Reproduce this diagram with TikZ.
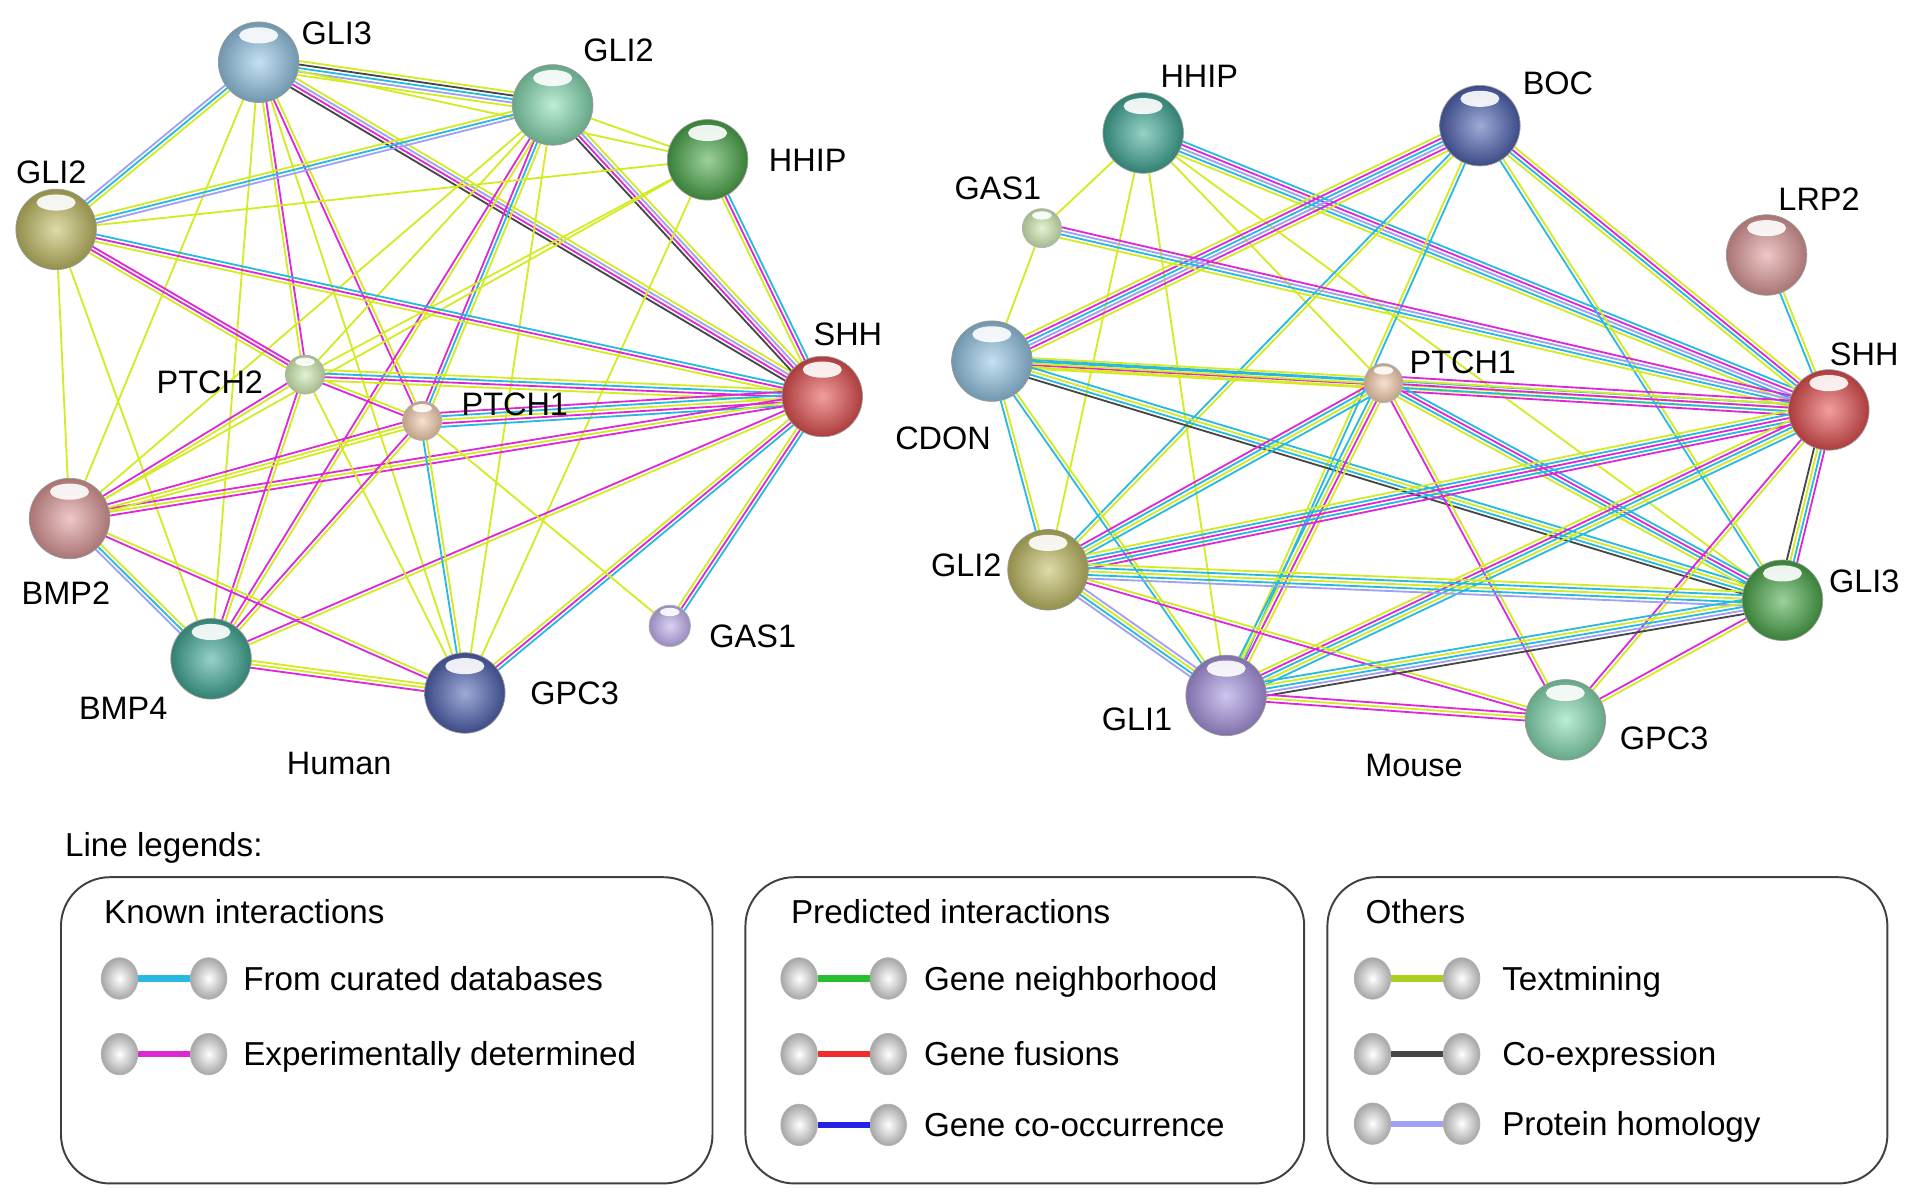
\documentclass[tikz,border=0pt]{standalone}
\usepackage{fontspec}
\setmainfont{Liberation Sans}
\usetikzlibrary{calc,backgrounds,shapes.geometric}

% evidence colours
\definecolor{cura}{RGB}{40,185,225}
\definecolor{expt}{RGB}{220,40,215}
\definecolor{txtm}{RGB}{212,235,35}
\definecolor{coex}{RGB}{70,70,70}
\definecolor{homo}{RGB}{160,160,245}
\definecolor{neig}{RGB}{40,190,50}
\definecolor{fusi}{RGB}{240,45,45}
\definecolor{cooc}{RGB}{35,35,230}
\definecolor{txleg}{RGB}{170,205,30}
% protein colours
\definecolor{pblue}{RGB}{150,200,232}
\definecolor{pmint}{RGB}{135,222,180}
\definecolor{pgreen}{RGB}{75,170,75}
\definecolor{polive}{RGB}{195,190,100}
\definecolor{pred}{RGB}{230,80,80}
\definecolor{ppale}{RGB}{205,232,175}
\definecolor{ppeach}{RGB}{238,200,170}
\definecolor{ppink}{RGB}{225,155,155}
\definecolor{pteal}{RGB}{65,172,152}
\definecolor{pnavy}{RGB}{80,100,180}
\definecolor{plav}{RGB}{190,172,235}
\definecolor{ppurp}{RGB}{170,150,228}

\tikzset{
  prot/.style={circle, draw=black!40, line width=0.3pt, inner sep=0pt,
    minimum size=33pt, inner color=#1!55!white, outer color=#1!75!black,
    path picture={\fill[white,opacity=0.9]
      ($(path picture bounding box.north)+(0,-5.5pt)$) ellipse [x radius=8pt, y radius=3.3pt];}},
  dot/.style={circle, draw=black!30, line width=0.3pt, inner sep=0pt,
    minimum size=16pt, inner color=#1!55!white, outer color=#1!80!black,
    path picture={\fill[white,opacity=0.9]
      ($(path picture bounding box.north)+(0,-2.8pt)$) ellipse [x radius=4pt, y radius=1.7pt];}},
  lball/.style={ellipse, draw=black!30, line width=0.3pt, inner sep=0pt,
    minimum width=15pt, minimum height=17pt, inner color=white, outer color=black!35},
  gname/.style={font=\fontsize{13.3}{15}\selectfont, inner sep=0pt,
    text height=9.5pt, text depth=0pt},
  leg/.style={font=\fontsize{13.6}{16}\selectfont, inner sep=0pt,
    text height=9.7pt, text depth=0pt, anchor=west},
  legbox/.style={draw=black!75, line width=0.8pt, rounded corners=20pt},
  lnkline/.style={line width=0.75pt},
}

% parallel evidence lines between two proteins
\newcommand{\lnk}[3]{%
  \foreach \col [count=\n] in {#3} {\xdef\lnkn{\n}}%
  \foreach \col [count=\i] in {#3} {%
    \pgfmathsetmacro\lnkoff{(\i-(\lnkn+1)/2)*1.45}%
    \draw[lnkline, \col] ($(#1)!\lnkoff pt!90:(#2)$) -- ($(#2)!\lnkoff pt!-90:(#1)$);
  }%
}

\begin{document}
\begin{tikzpicture}[x=0.5pt, y=-0.5pt]
\useasboundingbox (0,0) rectangle (1568,986);

% ---- Human
\node[prot=pblue] (hGLI3) at (212,51) {};
\node[prot=pmint] (hGLI2a) at (453,86) {};
\node[prot=pgreen] (hHHIP) at (580,131) {};
\node[prot=polive] (hGLI2b) at (46,188) {};
\node[prot=pred] (hSHH) at (674,325) {};
\node[dot=ppale] (hPTCH2) at (250,307) {};
\node[dot=ppeach] (hPTCH1) at (346,345) {};
\node[prot=ppink] (hBMP2) at (57,425) {};
\node[prot=pteal] (hBMP4) at (173,540) {};
\node[prot=pnavy] (hGPC3) at (381,568) {};
\node[dot=plav, minimum size=17pt] (hGAS1) at (549,513) {};

\node[gname] (hGLI3t) at (276,27) {GLI3};
\node[gname] (hGLI2at) at (507,41) {GLI2};
\node[gname] (hHHIPt) at (662,131) {HHIP};
\node[gname] (hGLI2bt) at (42,141) {GLI2};
\node[gname] (hSHHt) at (695,274) {SHH};
\node[gname] (hPTCH2t) at (172,313) {PTCH2};
\node[gname] (hPTCH1t) at (422,331) {PTCH1};
\node[gname] (hBMP2t) at (54,486) {BMP2};
\node[gname] (hBMP4t) at (101,580) {BMP4};
\node[gname] (hGPC3t) at (471,568) {GPC3};
\node[gname] (hGAS1t) at (617,521) {GAS1};
\node[gname] (human) at (278,625) {Human};

\begin{pgfonlayer}{background}
\lnk{hGLI3}{hGLI2a}{txtm,homo,cura,coex,txtm}
\lnk{hGLI3}{hHHIP}{txtm}
\lnk{hGLI3}{hSHH}{coex,expt,homo,txtm}
\lnk{hGLI3}{hGLI2b}{homo,cura,txtm}
\lnk{hGLI3}{hPTCH2}{txtm,expt}
\lnk{hGLI3}{hPTCH1}{expt,txtm}
\lnk{hGLI3}{hBMP2}{txtm}
\lnk{hGLI3}{hBMP4}{txtm}
\lnk{hGLI3}{hGPC3}{txtm}
\lnk{hGLI2a}{hGLI2b}{txtm,cura,homo}
\lnk{hGLI2a}{hHHIP}{txtm}
\lnk{hGLI2a}{hSHH}{coex,expt,homo,txtm}
\lnk{hGLI2a}{hPTCH2}{txtm}
\lnk{hGLI2a}{hPTCH1}{expt,cura,txtm}
\lnk{hGLI2a}{hBMP2}{txtm}
\lnk{hGLI2a}{hBMP4}{expt,txtm}
\lnk{hGLI2a}{hGPC3}{txtm}
\lnk{hHHIP}{hGLI2b}{txtm}
\lnk{hHHIP}{hSHH}{txtm,expt,cura}
\lnk{hHHIP}{hPTCH2}{txtm}
\lnk{hHHIP}{hBMP2}{txtm}
\lnk{hHHIP}{hGPC3}{txtm}
\lnk{hGLI2b}{hSHH}{txtm,expt,cura}
\lnk{hGLI2b}{hPTCH2}{txtm,expt,expt}
\lnk{hGLI2b}{hBMP2}{txtm}
\lnk{hGLI2b}{hBMP4}{txtm}
\lnk{hSHH}{hPTCH2}{txtm,cura,expt,txtm}
\lnk{hSHH}{hPTCH1}{expt,cura,txtm,expt,cura}
\lnk{hSHH}{hBMP2}{expt,txtm,expt}
\lnk{hSHH}{hBMP4}{expt,txtm}
\lnk{hSHH}{hGPC3}{txtm,expt,cura}
\lnk{hSHH}{hGAS1}{txtm,expt,cura}
\lnk{hPTCH2}{hPTCH1}{expt,txtm}
\lnk{hPTCH2}{hBMP2}{expt,txtm}
\lnk{hPTCH2}{hBMP4}{expt,txtm}
\lnk{hPTCH2}{hGPC3}{txtm}
\lnk{hPTCH1}{hBMP2}{expt,txtm,txtm}
\lnk{hPTCH1}{hBMP4}{expt,txtm}
\lnk{hPTCH1}{hGPC3}{cura,txtm}
\lnk{hPTCH1}{hGAS1}{txtm}
\lnk{hBMP2}{hBMP4}{homo,cura,txtm}
\lnk{hBMP2}{hGPC3}{expt,txtm}
\lnk{hBMP4}{hGPC3}{expt,txtm,txtm}
\end{pgfonlayer}

% ---- Mouse
\node[prot=pteal] (mHHIP) at (937,109) {};
\node[prot=pnavy] (mBOC) at (1213,103) {};
\node[dot=ppale] (mGAS1) at (854,187) {};
\node[prot=ppink] (mLRP2) at (1448,209) {};
\node[prot=pblue] (mCDON) at (813,296) {};
\node[dot=ppeach] (mPTCH1) at (1134,314) {};
\node[prot=pred] (mSHH) at (1499,336) {};
\node[prot=polive] (mGLI2) at (859,467) {};
\node[prot=pgreen] (mGLI3) at (1461,492) {};
\node[prot=ppurp] (mGLI1) at (1005,570) {};
\node[prot=pmint] (mGPC3) at (1283,590) {};

\node[gname] (mHHIPt) at (983,62) {HHIP};
\node[gname] (mBOCt) at (1277,68) {BOC};
\node[gname] (mGAS1t) at (818,154) {GAS1};
\node[gname] (mLRP2t) at (1491,163) {LRP2};
\node[gname] (mCDONt) at (773,359) {CDON};
\node[gname] (mPTCH1t) at (1199,297) {PTCH1};
\node[gname] (mSHHt) at (1528,290) {SHH};
\node[gname] (mGLI2t) at (792,463) {GLI2};
\node[gname] (mGLI3t) at (1528,476) {GLI3};
\node[gname] (mGLI1t) at (932,589) {GLI1};
\node[gname] (mGPC3t) at (1364,605) {GPC3};
\node[gname] (mouse) at (1159,627) {Mouse};

\begin{pgfonlayer}{background}
\lnk{mHHIP}{mGAS1}{txtm}
\lnk{mHHIP}{mGLI2}{txtm}
\lnk{mHHIP}{mGLI1}{txtm}
\lnk{mHHIP}{mPTCH1}{txtm}
\lnk{mHHIP}{mGLI3}{txtm}
\lnk{mHHIP}{mSHH}{txtm,cura,homo,expt,cura}
\lnk{mBOC}{mCDON}{txtm,expt,cura,homo,expt,txtm}
\lnk{mBOC}{mGLI2}{cura,txtm}
\lnk{mBOC}{mGLI1}{txtm,cura}
\lnk{mBOC}{mSHH}{txtm,cura,expt,txtm}
\lnk{mBOC}{mGLI3}{cura,txtm}
\lnk{mGAS1}{mCDON}{txtm}
\lnk{mGAS1}{mSHH}{txtm,cura,homo,expt}
\lnk{mCDON}{mPTCH1}{txtm,expt,cura,txtm}
\lnk{mCDON}{mSHH}{txtm,txtm,cura}
\lnk{mCDON}{mGLI2}{cura,txtm}
\lnk{mCDON}{mGLI1}{cura,txtm}
\lnk{mCDON}{mGLI3}{coex,cura,txtm,cura}
\lnk{mLRP2}{mSHH}{cura,txtm}
\lnk{mPTCH1}{mSHH}{expt,cura,expt,txtm,expt}
\lnk{mPTCH1}{mGLI2}{expt,cura,txtm,cura}
\lnk{mPTCH1}{mGLI1}{cura,txtm,expt,txtm}
\lnk{mPTCH1}{mGPC3}{expt,txtm}
\lnk{mPTCH1}{mGLI3}{txtm,cura,expt,cura}
\lnk{mSHH}{mGLI2}{txtm,cura,expt,cura,expt}
\lnk{mSHH}{mGLI1}{txtm,expt,cura,txtm,cura}
\lnk{mSHH}{mGLI3}{coex,txtm,cura,expt}
\lnk{mSHH}{mGPC3}{expt,txtm}
\lnk{mGLI2}{mGLI3}{homo,cura,txtm,cura,txtm}
\lnk{mGLI2}{mGLI1}{homo,cura,txtm,homo}
\lnk{mGLI2}{mGPC3}{expt,txtm}
\lnk{mGLI1}{mGLI3}{coex,homo,cura,txtm,cura}
\lnk{mGLI1}{mGPC3}{expt,txtm,expt}
\lnk{mGLI3}{mGPC3}{expt,txtm}
\end{pgfonlayer}

% ---- Legend
\node[leg] (title) at (53,692) {Line legends:};
\draw[legbox] (50,719) rectangle (584,970);
\draw[legbox] (611,719) rectangle (1069,970);
\draw[legbox] (1088,719) rectangle (1547,970);

\node[leg] (knownt) at (85,747) {Known interactions};
\node[lball] (k1a) at (98,802) {};
\node[lball] (k1b) at (171,802) {};
\draw[cura, line width=2.5pt] (k1a) -- (k1b);
\node[leg] (k1t) at (199,802) {From curated databases};
\node[lball] (k2a) at (98,864) {};
\node[lball] (k2b) at (171,864) {};
\draw[expt, line width=2.5pt] (k2a) -- (k2b);
\node[leg] (k2t) at (199,864) {Experimentally determined};

\node[leg] (predt) at (648,747) {Predicted interactions};
\node[lball] (p1a) at (655,802) {};
\node[lball] (p1b) at (728,802) {};
\draw[neig, line width=2.5pt] (p1a) -- (p1b);
\node[leg] (p1t) at (757,802) {Gene neighborhood};
\node[lball] (p2a) at (655,864) {};
\node[lball] (p2b) at (728,864) {};
\draw[fusi, line width=2.5pt] (p2a) -- (p2b);
\node[leg] (p2t) at (757,864) {Gene fusions};
\node[lball] (p3a) at (655,922) {};
\node[lball] (p3b) at (728,922) {};
\draw[cooc, line width=2.5pt] (p3a) -- (p3b);
\node[leg] (p3t) at (757,922) {Gene co-occurrence};

\node[leg] (otht) at (1119,747) {Others};
\node[lball] (o1a) at (1125,802) {};
\node[lball] (o1b) at (1198,802) {};
\draw[txleg, line width=2.5pt] (o1a) -- (o1b);
\node[leg] (o1t) at (1231,802) {Textmining};
\node[lball] (o2a) at (1125,864) {};
\node[lball] (o2b) at (1198,864) {};
\draw[coex, line width=2.5pt] (o2a) -- (o2b);
\node[leg] (o2t) at (1231,864) {Co-expression};
\node[lball] (o3a) at (1125,921) {};
\node[lball] (o3b) at (1198,921) {};
\draw[homo, line width=2.5pt] (o3a) -- (o3b);
\node[leg] (o3t) at (1231,921) {Protein homology};
\end{tikzpicture}
\end{document}
